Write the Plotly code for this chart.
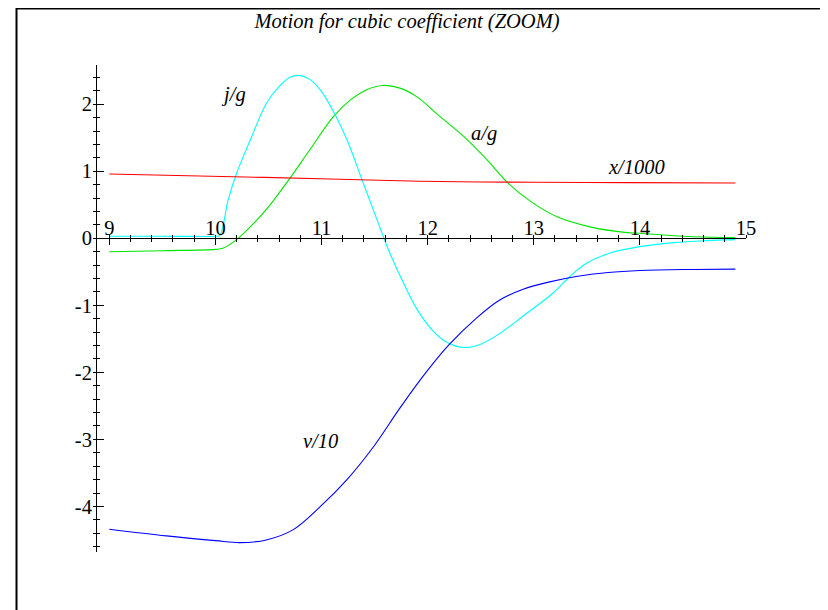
import plotly.graph_objects as go

# ---- data ----
t_jerk = [9.0, 9.5, 10.0, 10.04, 10.12, 10.2, 10.33, 10.48, 10.61, 10.70, 10.79, 10.89, 10.99,
          11.11, 11.24, 11.38, 11.52, 11.63, 11.77, 11.90, 12.05, 12.18, 12.35, 12.50,
          12.68, 12.90, 13.18, 13.34, 13.50, 13.72, 14.0, 14.32, 14.63, 14.9]
jerk_g = [0.03, 0.03, 0.03, 0.04, 0.57, 0.97, 1.47, 2.01, 2.28, 2.40, 2.43, 2.37, 2.21,
          1.90, 1.47, 0.88, 0.29, -0.17, -0.66, -1.06, -1.38, -1.55, -1.63, -1.58,
          -1.42, -1.16, -0.82, -0.57, -0.37, -0.22, -0.125, -0.065, -0.035, -0.02]

t_acc = [9.0, 9.5, 10.0, 10.07, 10.2, 10.39, 10.48, 10.55, 10.70, 10.89, 11.11, 11.27,
         11.43, 11.58, 11.74, 11.90, 12.12, 12.34, 12.56, 12.76, 12.97, 13.22, 13.53,
         13.88, 14.0, 14.41, 14.9]
acc_g = [-0.20, -0.185, -0.165, -0.15, -0.02, 0.27, 0.43, 0.57, 0.89, 1.32, 1.81, 2.06,
         2.22, 2.28, 2.24, 2.11, 1.81, 1.52, 1.17, 0.82, 0.55, 0.32, 0.17,
         0.085, 0.075, 0.03, 0.01]

t_pos = [9.0, 9.85, 11.08, 11.93, 13.0, 13.9, 14.9]
pos_k = [0.96, 0.93, 0.885, 0.85, 0.835, 0.83, 0.825]

t_vel = [9.0, 9.54, 10.0, 10.23, 10.48, 10.73, 10.99, 11.24, 11.49, 11.74, 11.99, 12.2,
         12.46, 12.68, 12.9, 13.15, 13.4, 13.7, 14.0, 14.5, 14.9]
vel_10 = [-4.34, -4.44, -4.51, -4.54, -4.50, -4.35, -4.00, -3.60, -3.11, -2.53, -1.99, -1.59,
          -1.19, -0.92, -0.76, -0.65, -0.57, -0.51, -0.48, -0.465, -0.46]

x_ticks = [9, 10, 11, 12, 13, 14, 15]
y_ticks = [-4, -3, -2, -1, 0, 1, 2]

labels = ["j/g", "a/g", "x/1000", "v/10"]
label_x = [10.17, 12.53, 13.97, 10.99]
label_y = [2.14, 1.57, 1.06, -3.02]

title = "Motion for cubic coefficient (ZOOM)"

# ---- layout geometry (the page shows the figure offset by the body margin) ----
OFF = 8
W, H = 828, 610
PL, PT, PW, PH = 96 - OFF, 65 - OFF, 650, 487      # plot area in figure pixels
ML, MT = PL, PT
MR, MB = W - PL - PW, H - PT - PH
XR = [8.875, 15.0]
YR = [-4.68, 2.585]
x_axis_pos = (0 - YR[0]) / (YR[1] - YR[0])
serif = "Liberation Serif, Times New Roman, serif"
FS = 20.5
tickfont = dict(family=serif, size=FS, color="black")

fig = go.Figure()
fig.add_trace(go.Scatter(x=t_pos, y=pos_k, mode="lines", line=dict(color="#ff0000", width=1.1, shape="spline"),
                         xaxis="x2", yaxis="y2"))
fig.add_trace(go.Scatter(x=t_vel, y=vel_10, mode="lines", line=dict(color="#0000ff", width=1.1, shape="spline"),
                         xaxis="x2", yaxis="y2"))
fig.add_trace(go.Scatter(x=t_acc, y=acc_g, mode="lines", line=dict(color="#00e600", width=1.1, shape="spline")))
fig.add_trace(go.Scatter(x=t_jerk, y=jerk_g, mode="lines", line=dict(color="#00ffff", width=1.1, shape="spline")))

for txt, lx, ly in zip(labels, label_x, label_y):
    fig.add_annotation(x=lx, y=ly, xref="x", yref="y", text="<i>" + txt + "</i>", showarrow=False,
                       font=dict(family=serif, size=FS, color="black"))

def px_x(p):
    return (p - OFF - PL) / PW
def px_y(p):
    return (PT + PH - (p - OFF)) / PH

# page frame: left, right and top edges
fig.add_shape(type="line", xref="paper", yref="paper", x0=px_x(16.5), x1=px_x(16.5), y0=px_y(640), y1=px_y(8),
              line=dict(color="black", width=2))
fig.add_shape(type="line", xref="paper", yref="paper", x0=px_x(822), x1=px_x(822), y0=px_y(640), y1=px_y(8),
              line=dict(color="black", width=2))
fig.add_shape(type="line", xref="paper", yref="paper", x0=px_x(16), x1=px_x(823), y0=px_y(8.5), y1=px_y(8.5),
              line=dict(color="black", width=2))

common_x = dict(range=XR, anchor="free", position=x_axis_pos, side="top", showgrid=False,
                zeroline=False, automargin=False)
common_y = dict(range=YR, anchor="free", position=0, side="left", showgrid=False,
                zeroline=False, automargin=False)

fig.update_layout(
    template="none",
    width=W, height=H,
    margin=dict(l=ML, r=MR, t=MT, b=MB, autoexpand=False),
    paper_bgcolor="white", plot_bgcolor="white",
    showlegend=False,
    font=dict(family=serif, color="black"),
    title=dict(text="<i>" + title + "</i>", x=px_x(407), xref="paper", xanchor="center",
               y=1 - 12.5 / H, yref="container", yanchor="middle", automargin=False,
               font=dict(family=serif, size=FS, color="black")),
    xaxis=dict(**common_x, tickvals=x_ticks, ticktext=[str(v) for v in x_ticks],
               ticks="inside", ticklen=6, tickcolor="black", tickwidth=1,
               showline=True, linecolor="black", linewidth=1, tickfont=tickfont,
               ticklabelstandoff=-5,
               minor=dict(tick0=9, dtick=0.2, ticks="inside", ticklen=3, tickcolor="black", tickwidth=1)),
    yaxis=dict(**common_y, tickvals=y_ticks, ticktext=[str(v) for v in y_ticks],
               ticks="inside", ticklen=7, tickcolor="black", tickwidth=1,
               showline=True, linecolor="black", linewidth=1, tickfont=tickfont,
               minor=dict(tick0=0, dtick=0.2, ticks="inside", ticklen=3, tickcolor="black", tickwidth=1)),
    xaxis2=dict(**common_x, overlaying="x", tick0=9, dtick=0.2, ticks="outside", ticklen=3,
                tickcolor="black", tickwidth=1, showticklabels=False, showline=False),
    yaxis2=dict(**common_y, overlaying="y", tick0=0, dtick=0.2, ticks="outside", ticklen=3,
                tickcolor="black", tickwidth=1, showticklabels=False, showline=False),
)

fig.write_html("out.html")
